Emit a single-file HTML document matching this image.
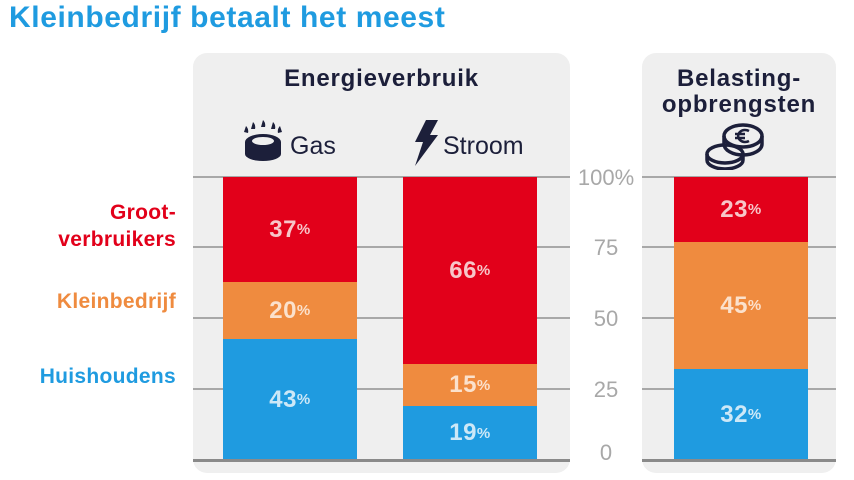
<!DOCTYPE html>
<html><head><meta charset="utf-8"><style>
body{margin:0;width:854px;height:480px;background:#fff;font-family:"Liberation Sans",sans-serif;position:relative;overflow:hidden}
.a{position:absolute}
.p{position:absolute;background:#efefef;border-radius:14px}
.g{position:absolute;height:2px;background:#a8a8a8}
.b{position:absolute;display:flex;align-items:center;justify-content:center;font-weight:bold;font-size:24px;letter-spacing:0.5px}
.b sup{font-size:15px;vertical-align:10px}
.r{background:#e2001a;color:#f7c6c9}
.o{background:#ef8b3f;color:#fbe1cc}
.u{background:#1f9be0;color:#cde8f7}
.t{position:absolute;color:#a8a8a8;font-size:22px;width:70px;text-align:center}
.h{position:absolute;color:#1c1f3a;font-weight:bold;font-size:24px;text-align:center;line-height:26px;letter-spacing:0.8px}
.l{position:absolute;right:678px;font-weight:bold;font-size:21px;text-align:right;line-height:27px;letter-spacing:0.3px}
</style></head><body>
<div class="a" style="left:9px;top:1px;font-size:30px;font-weight:bold;color:#1f9be0;letter-spacing:0.6px">Kleinbedrijf betaalt het meest</div>
<div class="p" style="left:193px;top:53px;width:377px;height:420px"></div>
<div class="p" style="left:642px;top:53px;width:194px;height:420px"></div>
<div class="h" style="left:193px;top:66px;width:377px">Energieverbruik</div>
<div class="h" style="left:642px;top:66px;width:194px">Belasting-<br>opbrengsten</div>
<svg class="a" style="left:240px;top:118px" width="46" height="46" viewBox="0 0 46 46">
<g fill="#1c1f3a"><path d="M6 8 q3 3 2 7 l-4 -1z M13 4 q3 3 2 7 h-4z M23 2 q3 3 2 7 h-4z M33 4 q3 3 2 7 h-4z M40 8 q-3 3 -2 7 l4 -1z"/>
<ellipse cx="23" cy="24" rx="18" ry="8"/><rect x="5" y="24" width="36" height="12"/><ellipse cx="23" cy="36" rx="18" ry="7"/></g>
<ellipse cx="23" cy="23" rx="11" ry="4" fill="#efefef"/></svg>
<div class="a" style="left:290px;top:132px;font-size:25px;color:#1c1f3a">Gas</div>
<svg class="a" style="left:412px;top:120px" width="28" height="46" viewBox="0 0 28 46"><path d="M14 0 h12 l-8 15 h8 l-23 31 l8 -24 h-8z" fill="#1c1f3a"/></svg>
<div class="a" style="left:443px;top:132px;font-size:25px;color:#1c1f3a">Stroom</div>
<svg class="a" style="left:703px;top:122px" width="64" height="48" viewBox="0 0 64 48" fill="none" stroke="#1c1f3a" stroke-width="3.5">
<ellipse cx="22" cy="32" rx="18" ry="9" fill="#efefef"/><path d="M4 32 v6 a18 9 0 0 0 36 0 v-6"/>
<ellipse cx="40" cy="14" rx="19" ry="11" fill="#efefef"/><path d="M21 14 v8 a19 11 0 0 0 38 0 v-8"/>
<path d="M46 9 a7 6 0 1 0 0 10 M32 12 h10 M32 16 h10" stroke-width="2.5"/></svg>
<div class="g" style="left:193px;top:176px;width:377px"></div><div class="g" style="left:642px;top:176px;width:194px"></div>
<div class="g" style="left:193px;top:246px;width:377px"></div><div class="g" style="left:642px;top:246px;width:194px"></div>
<div class="g" style="left:193px;top:317px;width:377px"></div><div class="g" style="left:642px;top:317px;width:194px"></div>
<div class="g" style="left:193px;top:388px;width:377px"></div><div class="g" style="left:642px;top:388px;width:194px"></div>
<div class="t" style="left:571px;top:165px">100%</div>
<div class="t" style="left:571px;top:235px">75</div>
<div class="t" style="left:571px;top:306px">50</div>
<div class="t" style="left:571px;top:377px">25</div>
<div class="t" style="left:571px;top:440px">0</div>
<div class="b r" style="left:223px;top:177px;width:134px;height:105px">37<sup>%</sup></div>
<div class="b o" style="left:223px;top:282px;width:134px;height:57px">20<sup>%</sup></div>
<div class="b u" style="left:223px;top:339px;width:134px;height:121px">43<sup>%</sup></div>
<div class="b r" style="left:403px;top:177px;width:134px;height:187px">66<sup>%</sup></div>
<div class="b o" style="left:403px;top:364px;width:134px;height:42px">15<sup>%</sup></div>
<div class="b u" style="left:403px;top:406px;width:134px;height:54px">19<sup>%</sup></div>
<div class="b r" style="left:674px;top:177px;width:134px;height:65px">23<sup>%</sup></div>
<div class="b o" style="left:674px;top:242px;width:134px;height:127px">45<sup>%</sup></div>
<div class="b u" style="left:674px;top:369px;width:134px;height:91px">32<sup>%</sup></div>
<div class="g" style="left:193px;top:459px;width:377px;background:#8a8a8a;height:3px"></div>
<div class="g" style="left:642px;top:459px;width:194px;background:#8a8a8a;height:3px"></div>
<div class="l" style="top:199px;color:#e2001a">Groot-<br>verbruikers</div>
<div class="l" style="top:288px;color:#ef8b3f">Kleinbedrijf</div>
<div class="l" style="top:363px;color:#1f9be0">Huishoudens</div>
</body></html>
